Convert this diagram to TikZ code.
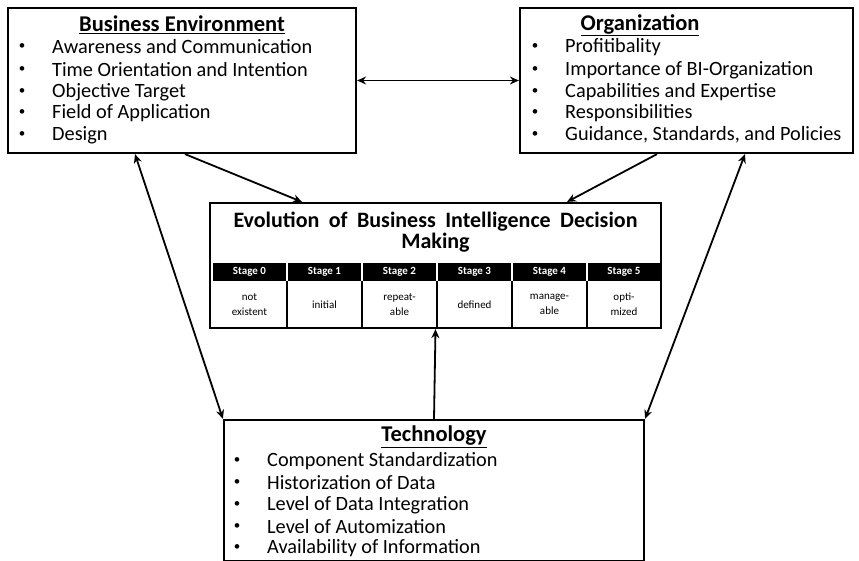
\documentclass[tikz,border=0pt]{standalone}
\usepackage{fontspec}
\setmainfont{Carlito}
\usetikzlibrary{arrows.meta}
\tikzset{
  box/.style={draw, line width=2.2pt, inner sep=0pt},
  item/.style={anchor=west, inner sep=0pt, font=\fontsize{20.3}{22}\selectfont},
  bul/.style={inner sep=0pt, font=\fontsize{13}{14}\selectfont},
  heading/.style={inner sep=0pt, font=\bfseries\fontsize{22.5}{26}\selectfont},
  stagehead/.style={fill=black, text=white, minimum width=73pt, minimum height=18pt, inner sep=0pt, font=\bfseries\fontsize{11}{12}\selectfont},
  stagecell/.style={minimum width=75pt, minimum height=46pt, inner sep=0pt, align=center, font=\fontsize{11}{15}\selectfont},
  link/.style={line width=1.8pt, -{Stealth[length=9pt,width=8pt]}},
  twoway/.style={line width=1.8pt, {Stealth[length=9pt,width=8pt]}-{Stealth[length=9pt,width=8pt]}}
}
\begin{document}
\begin{tikzpicture}[x=1pt,y=-1pt]
\useasboundingbox (0,0) rectangle (859,561);
% the four boxes
\node[box, minimum width=348pt, minimum height=145pt] (env) at (182,80.5) {};
\node[box, minimum width=333pt, minimum height=145pt] (org) at (686.5,80.5) {};
\node[box, minimum width=451pt, minimum height=125pt] (mid) at (435.5,265.5) {};
\node[box, minimum width=420pt, minimum height=141pt] (tech) at (434,490.5) {};
% business environment
\node[heading] (envtitle) at (182,25) {\underline{Business Environment}};
\node[bul] at (22,47) {\textbullet};\node[item] (env1) at (52,47) {Awareness and Communication};
\node[bul] at (22,70) {\textbullet};\node[item] (env2) at (52,70) {Time Orientation and Intention};
\node[bul] at (22,92) {\textbullet};\node[item] (env3) at (52,92) {Objective Target};
\node[bul] at (22,113) {\textbullet};\node[item] (env4) at (52,113) {Field of Application};
\node[bul] at (22,135) {\textbullet};\node[item] (env5) at (52,135) {Design};
% organization
\node[heading] (orgtitle) at (640,25) {\underline{Organization}};
\node[bul] at (535,47) {\textbullet};\node[item] (org1) at (565,47) {Profitibality};
\node[bul] at (535,70) {\textbullet};\node[item] (org2) at (565,70) {Importance of BI-Organization};
\node[bul] at (535,92) {\textbullet};\node[item] (org3) at (565,92) {Capabilities and Expertise};
\node[bul] at (535,113) {\textbullet};\node[item] (org4) at (565,113) {Responsibilities};
\node[bul] at (535,135) {\textbullet};\node[item] (org5) at (565,135) {Guidance, Standards, and Policies};
% technology
\node[heading] (techtitle) at (434,437) {\underline{Technology}};
\node[bul] at (237,461) {\textbullet};\node[item] (tech1) at (267,461) {Component Standardization};
\node[bul] at (237,483) {\textbullet};\node[item] (tech2) at (267,483) {Historization of Data};
\node[bul] at (237,505) {\textbullet};\node[item] (tech3) at (267,505) {Level of Data Integration};
\node[bul] at (237,527) {\textbullet};\node[item] (tech4) at (267,527) {Level of Automization};
\node[bul] at (237,548) {\textbullet};\node[item] (tech5) at (267,548) {Availability of Information};
% evolution stages
\node[align=center, inner sep=0pt, font=\bfseries\fontsize{22}{21.5}\selectfont] (midtitle) at (435.5,232) {\makebox[404pt][s]{Evolution of Business Intelligence Decision}\\Making};
\node[stagehead] (h0) at (249.5,272) {Stage 0};
\node[stagehead] (h1) at (324.5,272) {Stage 1};
\node[stagehead] (h2) at (399.5,272) {Stage 2};
\node[stagehead] (h3) at (474.5,272) {Stage 3};
\node[stagehead] (h4) at (549.5,272) {Stage 4};
\node[stagehead] (h5) at (624,272) {Stage 5};
\node[stagecell] (c0) at (249.5,304.5) {not\\existent};
\node[stagecell] (c1) at (324.5,304.5) {initial};
\node[stagecell] (c2) at (399.5,304.5) {repeat-\\able};
\node[stagecell] (c3) at (474.5,304.5) {defined};
\node[stagecell] (c4) at (549.5,304.5) {manage-\\able};
\node[stagecell] (c5) at (624,304.5) {opti-\\mized};
\draw[line width=2pt] (c0.north east) -- (c0.south east);
\draw[line width=2pt] (c1.north east) -- (c1.south east);
\draw[line width=2pt] (c2.north east) -- (c2.south east);
\draw[line width=2pt] (c3.north east) -- (c3.south east);
\draw[line width=2pt] (c4.north east) -- (c4.south east);
% connectors
\draw[twoway] (env.east) -- (org.west);
\draw[link] ([xshift=3pt]env.south) -- ([xshift=-133.5pt]mid.north);
\draw[link] ([xshift=-29.5pt]org.south) -- ([xshift=131.5pt]mid.north);
\draw[twoway] ([xshift=-47pt]env.south) -- (tech.north west);
\draw[twoway] ([xshift=58.5pt]org.south) -- (tech.north east);
\draw[link] (tech.north) -- (mid.south);
\end{tikzpicture}
\end{document}
